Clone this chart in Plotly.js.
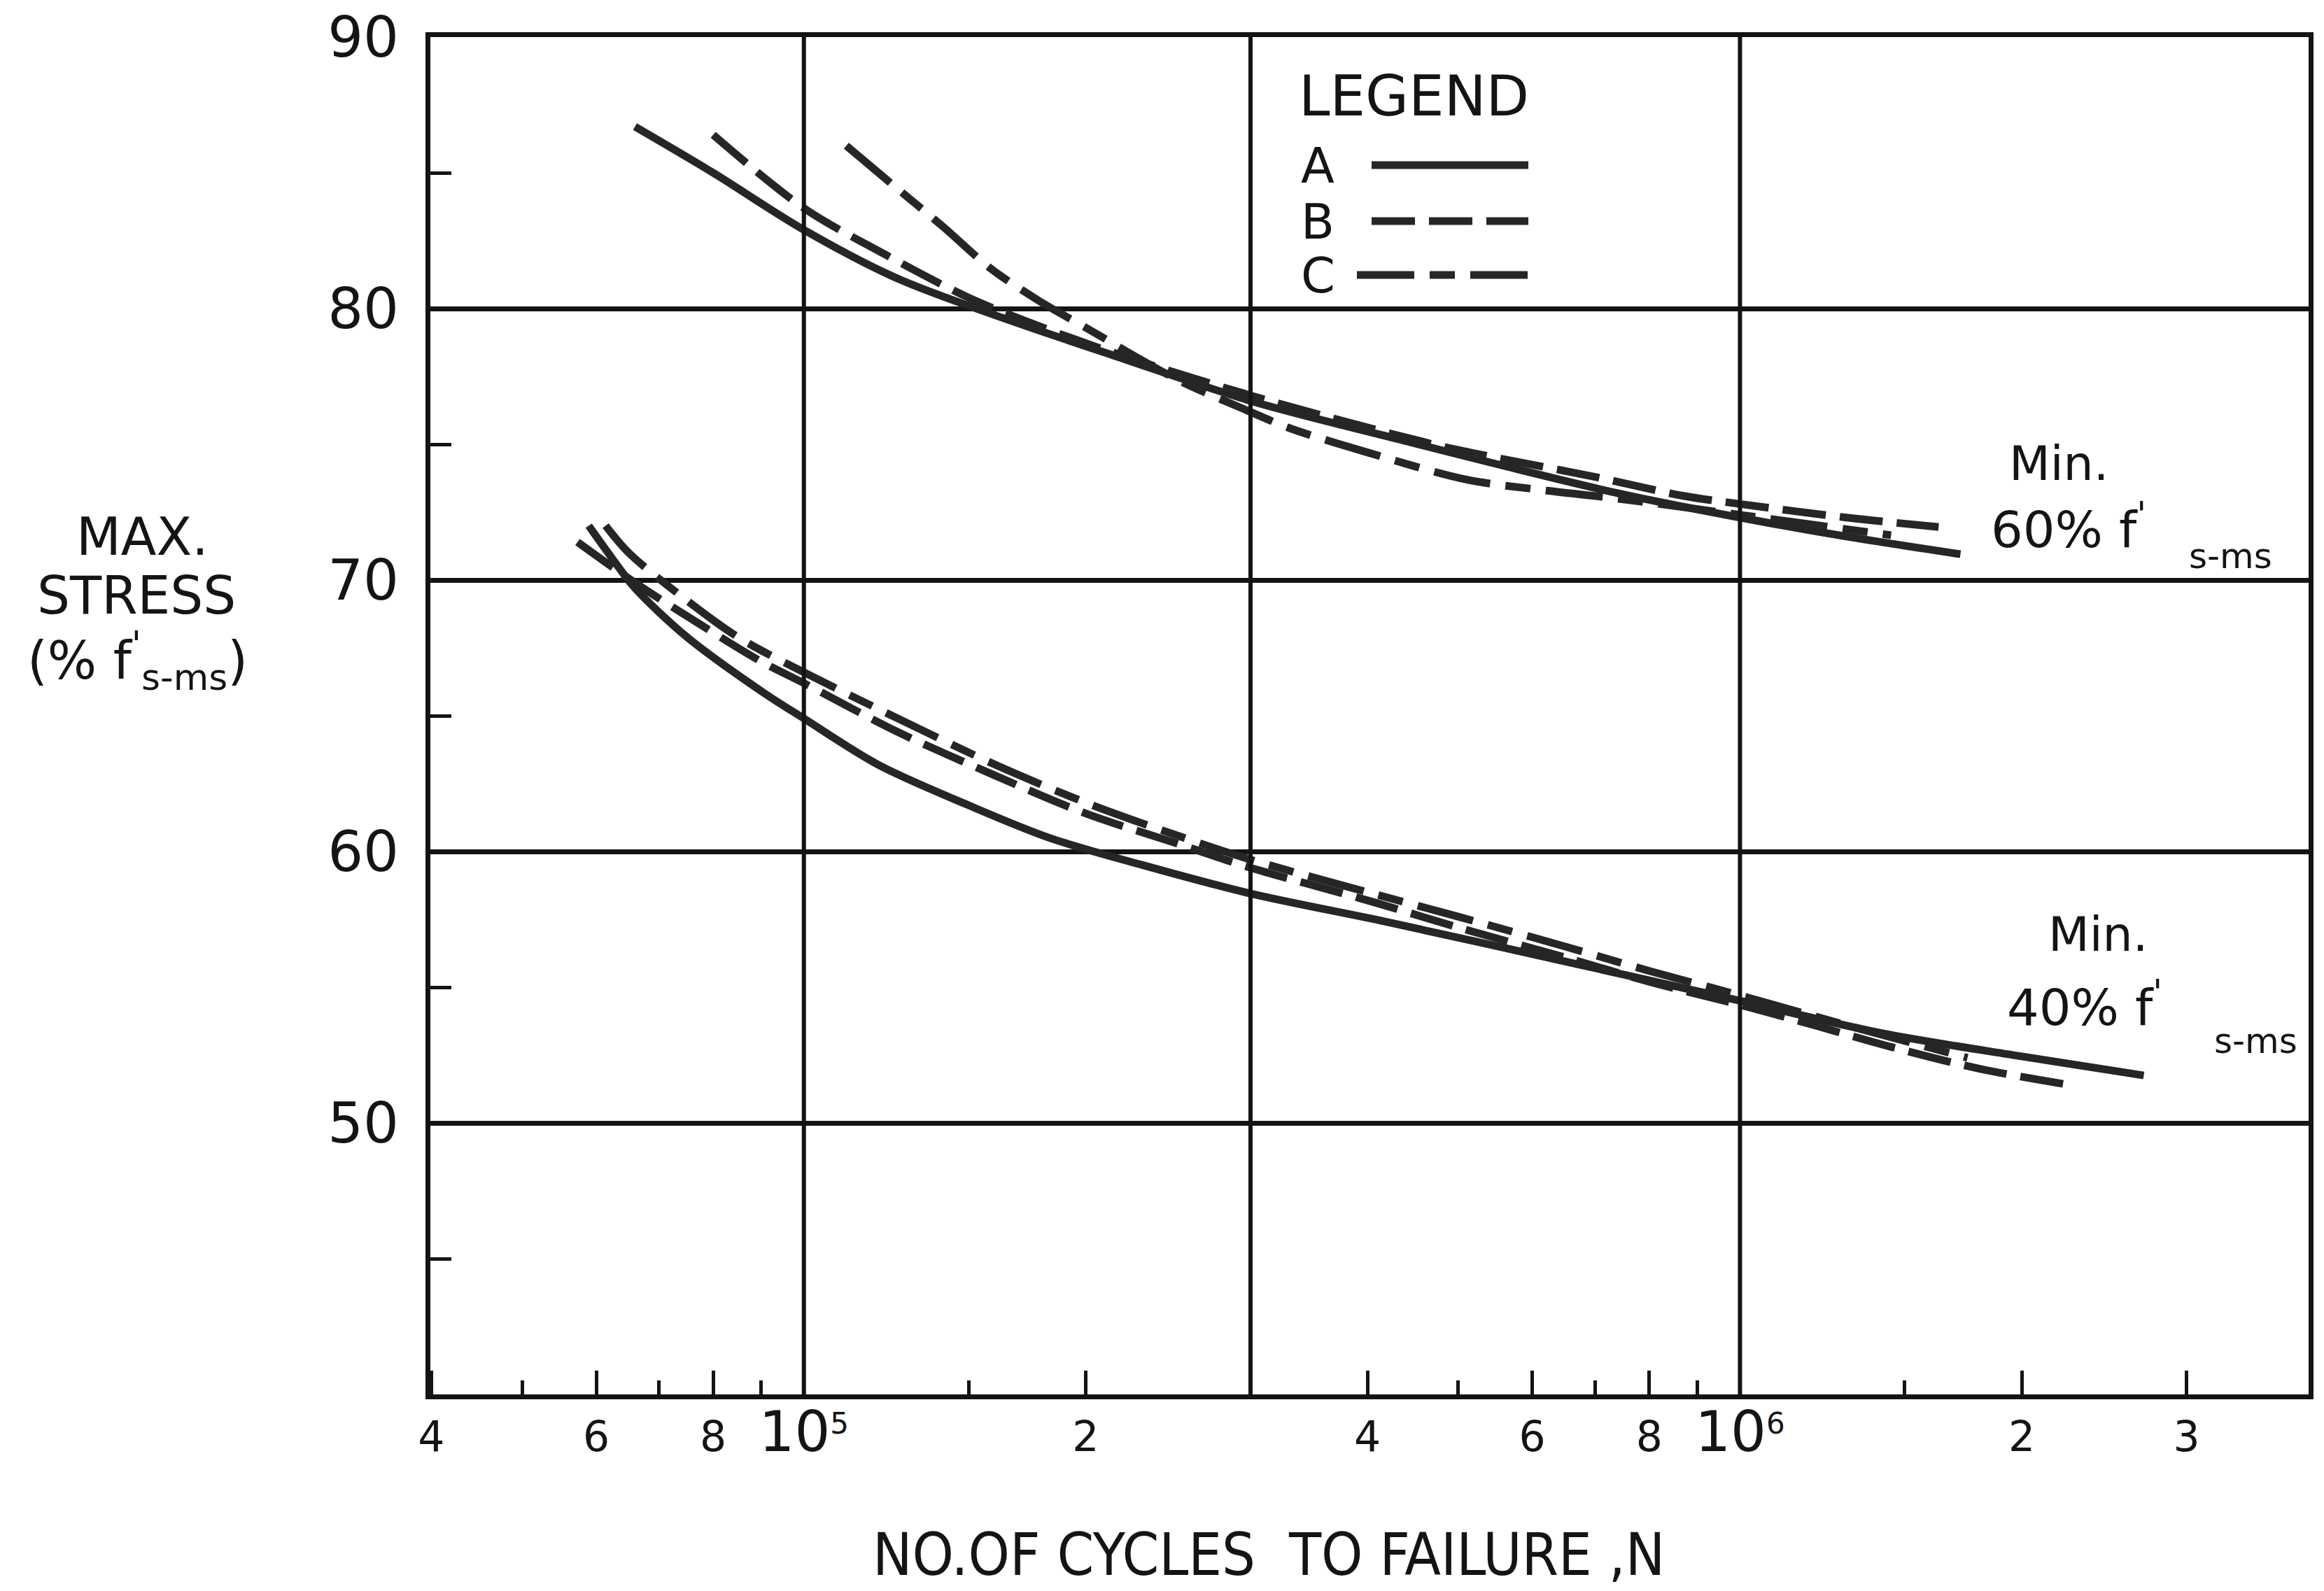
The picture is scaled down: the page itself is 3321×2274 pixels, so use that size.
<!DOCTYPE html>
<html>
<head>
<meta charset="utf-8">
<script src="https://cdn.plot.ly/plotly-3.0.1.min.js"></script>
<style>
  html, body { margin: 0; padding: 0; background: #ffffff; }
  #chart { width: 3321px; height: 2274px; }
</style>
</head>
<body>
<div id="chart"></div>
<script>
// ---------------- DATA ----------------
// Upper family: Min. 60% f's-ms
const n60A = [6.6e4, 8e4, 1e5, 1.26e5, 1.68e5, 2.13e5, 3e5, 4.3e5, 5.6e5, 7.4e5, 1e6, 1.3e6, 1.72e6];
const s60A = [86.7, 85.0, 82.9, 81.1, 79.5, 78.3, 76.6, 75.2, 74.2, 73.2, 72.3, 71.6, 70.95];

const n60B = [8e4, 1e5, 1.22e5, 1.5e5, 1.8e5, 2.13e5, 3e5, 4.7e5, 5.5e5, 7e5, 8.7e5, 1e6, 1.3e6, 1.63e6];
const s60B = [86.4, 83.7, 82.0, 80.4, 79.3, 78.4, 76.8, 75.0, 74.5, 73.8, 73.1, 72.8, 72.3, 71.95];

const n60C = [1.11e5, 1.26e5, 1.41e5, 1.58e5, 1.78e5, 2e5, 2.5e5, 2.95e5, 3.3e5, 4e5, 5.1e5, 6.2e5, 7.4e5, 1e6, 1.45e6];
const s60C = [86.0, 84.4, 83.0, 81.5, 80.3, 79.3, 77.4, 76.3, 75.6, 74.7, 73.7, 73.3, 73.0, 72.4, 71.65];

// Lower family: Min. 40% f's-ms
const n40A = [5.89e4, 6.3e4, 6.6e4, 7.5e4, 9.1e4, 1e5, 1.2e5, 1.5e5, 1.83e5, 2.3e5, 3e5, 4.2e5, 6.6e5, 1e6, 1.42e6, 2e6, 2.7e6];
const s40A = [72.0, 70.6, 69.7, 67.9, 65.8, 64.9, 63.2, 61.7, 60.5, 59.5, 58.45, 57.4, 55.9, 54.5, 53.3, 52.45, 51.75];

const n40B = [5.73e4, 6.6e4, 7.76e4, 9e4, 1e5, 1.26e5, 1.6e5, 2e5, 2.5e5, 3e5, 4e5, 5e5, 6.5e5, 8e5, 1e6, 1.2e6, 1.45e6, 1.8e6, 2.25e6];
const s40B = [71.4, 69.9, 68.35, 67.0, 66.2, 64.4, 62.8, 61.4, 60.3, 59.4, 58.2, 57.2, 56.1, 55.2, 54.35, 53.6, 52.8, 52.0, 51.4];

const n40C = [6.14e4, 6.5e4, 7.4e4, 8.5e4, 1e5, 1.26e5, 1.6e5, 2e5, 2.5e5, 3e5, 4e5, 5e5, 6.5e5, 8e5, 1e6, 1.3e6, 1.75e6];
const s40C = [72.0, 71.0, 69.4, 67.9, 66.6, 64.9, 63.2, 61.8, 60.6, 59.7, 58.5, 57.6, 56.5, 55.6, 54.7, 53.6, 52.4];

// Axis ticks / labels
const xMajorTicks = [4e4, 6e4, 8e4, 1e5, 2e5, 4e5, 6e5, 8e5, 1e6, 2e6, 3e6];
const xMajorLabels = ['4', '6', '8', "<span style='font-size:80px'>10</span><sup>5</sup>", '2', '4', '6', '8', "<span style='font-size:80px'>10</span><sup>6</sup>", '2', '3'];
const xMinorTicks = [5e4, 7e4, 9e4, 1.5e5, 5e5, 7e5, 9e5, 1.5e6];
const xGridValues = [1e5, 3e5, 1e6];
const yMajorTicks = [50, 60, 70, 80, 90];
const yMajorLabels = ['50', '60', '70', '80', '90'];
const yMinorTicks = [45, 55, 65, 75, 85];

// ---------------- LAYOUT HELPERS ----------------
const W = 3321, H = 2274;
const M = { l: 615, r: 22, t: 53, b: 281 };
const PW = W - M.l - M.r, PH = H - M.t - M.b;
const px = x => (x - M.l) / PW;          // pixel -> paper x
const py = y => 1 - (y - M.t) / PH;      // pixel -> paper y

const X_RANGE = [Math.log10(3.99e4), Math.log10(4.05e6)];
const xPaper = v => (Math.log10(v) - X_RANGE[0]) / (X_RANGE[1] - X_RANGE[0]);

const INK = '#141414';
const CURVE = '#262626';
const FONT = 'DejaVu Sans, Liberation Sans, Arial, sans-serif';
const NARROW = 'Liberation Sans Narrow, DejaVu Sans Condensed, DejaVu Sans, sans-serif';

const dashB = '62px,20px';
const dashC = '82px,22px,36px,22px';
const LW = 11;

function curve(n, s, dash) {
  return {
    x: n, y: s, type: 'scatter', mode: 'lines',
    line: { color: CURVE, width: LW, dash: dash, shape: 'spline', smoothing: 0.9 },
    hoverinfo: 'skip', showlegend: false
  };
}

const data = [
  curve(n60A, s60A, 'solid'),
  curve(n60B, s60B, dashB),
  curve(n60C, s60C, dashC),
  curve(n40A, s40A, 'solid'),
  curve(n40B, s40B, dashB),
  curve(n40C, s40C, dashC)
];

// vertical grid lines at 1e5, 3e5, 1e6
const shapes = xGridValues.map(v => ({
  type: 'line', xref: 'paper', yref: 'paper',
  x0: xPaper(v), x1: xPaper(v), y0: 0, y1: 1,
  line: { color: INK, width: 6 }, layer: 'above'
}));

// legend sample lines
shapes.push({ type: 'line', xref: 'paper', yref: 'paper', x0: px(1960), x1: px(2184), y0: py(236), y1: py(236), line: { color: CURVE, width: LW } });
shapes.push({ type: 'line', xref: 'paper', yref: 'paper', x0: px(1960), x1: px(2184), y0: py(316), y1: py(316), line: { color: CURVE, width: LW, dash: dashB } });
shapes.push({ type: 'line', xref: 'paper', yref: 'paper', x0: px(1939), x1: px(2194), y0: py(393), y1: py(393), line: { color: CURVE, width: LW, dash: dashC } });

function ann(text, xp, yp, size, anchor, family) {
  return {
    text: text, xref: 'paper', yref: 'paper', x: px(xp), y: py(yp),
    xanchor: anchor || 'center', yanchor: 'middle', showarrow: false,
    font: { family: family || FONT, size: size, color: INK }
  };
}

const annotations = [
  // legend
  ann('LEGEND', 2020, 138, 80),
  ann('A', 1883, 237, 70),
  ann('B', 1883, 317, 70),
  ann('C', 1883, 394, 70),
  // y-axis title
  ann('MAX.', 203, 767, 74),
  ann('STRESS', 195, 851, 74),
  ann("(% f<sup>'</sup><sub>s-ms</sub>)", 196, 945, 74),
  // curve family labels
  ann('Min.', 2942, 662, 68),
  ann("60% f<sup>'</sup>", 2843, 752, 72, 'left'),
  ann('s-ms', 3187, 795, 50),
  ann('Min.', 2998, 1335, 68),
  ann("40% f<sup>'</sup>", 2866, 1435, 72, 'left'),
  ann('s-ms', 3223, 1488, 50),
  // x-axis title
  ann('NO.OF CYCLES  TO FAILURE ,N', 1813, 2222, 84, 'center', NARROW)
];

const layout = {
  width: W, height: H,
  margin: { l: M.l, r: M.r, t: M.t, b: M.b, pad: 0 },
  paper_bgcolor: '#ffffff', plot_bgcolor: '#ffffff',
  showlegend: false,
  font: { family: FONT, color: INK },
  xaxis: {
    type: 'log',
    range: X_RANGE,
    tickmode: 'array', tickvals: xMajorTicks, ticktext: xMajorLabels,
    ticks: 'inside', ticklen: 34, tickwidth: 5, tickcolor: INK,
    tickfont: { family: FONT, size: 60, color: INK },
    ticklabelstandoff: 2,
    showgrid: false, zeroline: false,
    showline: true, linewidth: 7, linecolor: INK, mirror: true,
    minor: { tickmode: 'array', tickvals: xMinorTicks, ticks: 'inside', ticklen: 20, tickwidth: 5, tickcolor: INK, showgrid: false }
  },
  yaxis: {
    range: [40, 90],
    tickmode: 'array', tickvals: yMajorTicks, ticktext: yMajorLabels,
    ticks: '',
    tickfont: { family: FONT, size: 80, color: INK },
    ticklabelstandoff: 22,
    showgrid: true, gridcolor: INK, gridwidth: 7,
    zeroline: false,
    showline: true, linewidth: 7, linecolor: INK, mirror: true,
    minor: { tickmode: 'array', tickvals: yMinorTicks, ticks: 'inside', ticklen: 30, tickwidth: 5, tickcolor: INK, showgrid: false }
  },
  shapes: shapes,
  annotations: annotations
};

Plotly.newPlot('chart', data, layout, { staticPlot: true, displayModeBar: false });
</script>
</body>
</html>
